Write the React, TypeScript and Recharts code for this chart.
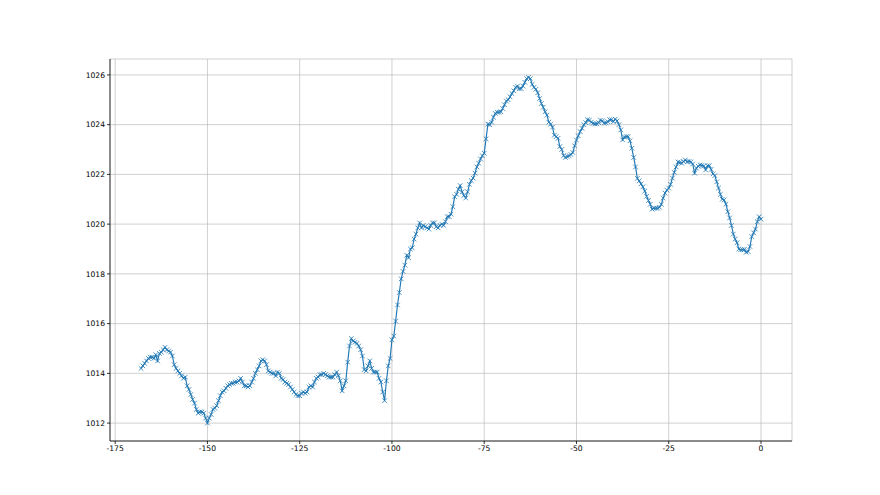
import { LineChart, Line, XAxis, YAxis, CartesianGrid } from 'recharts';

// half-hourly pressure readings, -168 h .. 0 h
const pressure = [
  1014.2, 1014.3, 1014.4, 1014.5, 1014.6, 1014.65, 1014.65, 1014.6, 1014.75, 1014.5,
  1014.8, 1014.85, 1014.95, 1015.05, 1014.95, 1014.9, 1014.85, 1014.7, 1014.35, 1014.2,
  1014.1, 1014.0, 1013.9, 1013.8, 1013.85, 1013.5, 1013.35, 1013.15, 1012.95, 1012.8,
  1012.55, 1012.4, 1012.45, 1012.45, 1012.4, 1012.2, 1012.0, 1012.2, 1012.35, 1012.55,
  1012.6, 1012.7, 1012.9, 1013.1, 1013.25, 1013.3, 1013.4, 1013.5, 1013.55, 1013.6,
  1013.6, 1013.65, 1013.65, 1013.7, 1013.8, 1013.65, 1013.5, 1013.5, 1013.45, 1013.5,
  1013.65,
  1013.8, 1014.0, 1014.15, 1014.3, 1014.5, 1014.55, 1014.5, 1014.35, 1014.1, 1014.05,
  1014.0, 1014.0, 1013.9, 1014.05, 1014.0, 1013.8, 1013.75, 1013.65, 1013.6, 1013.55,
  1013.45, 1013.35, 1013.25, 1013.15, 1013.1, 1013.1, 1013.2, 1013.25, 1013.2, 1013.25,
  1013.45, 1013.5, 1013.45, 1013.65, 1013.8, 1013.85, 1013.95, 1013.95, 1014.0, 1013.95,
  1013.9, 1013.85, 1013.85, 1013.85, 1013.95, 1014.05, 1013.9, 1013.7, 1013.3, 1013.5,
  1013.7, 1014.45, 1015.1, 1015.4, 1015.3, 1015.25, 1015.2, 1015.1, 1014.95, 1014.7,
  1014.15, 1014.1, 1014.3, 1014.5, 1014.2, 1014.05, 1014.05, 1014.05, 1013.8, 1013.65,
  1013.25, 1012.9, 1013.7, 1014.3, 1014.6, 1015.35, 1015.5, 1016.1, 1016.75, 1017.25,
  1017.8, 1018.1, 1018.35, 1018.75, 1018.65, 1019.0, 1019.05, 1019.4, 1019.6, 1019.85,
  1020.05, 1019.85, 1019.95, 1019.9, 1019.85, 1019.8, 1019.95, 1020.05, 1020.05, 1019.9,
  1019.85, 1019.95, 1020.0, 1019.95, 1020.1, 1020.3, 1020.3, 1020.4, 1020.7, 1021.1,
  1021.2, 1021.4, 1021.55, 1021.3, 1021.15, 1021.05, 1021.3, 1021.6, 1021.75, 1021.85,
  1022.05, 1022.3, 1022.45, 1022.62, 1022.75, 1022.85, 1023.43, 1024.02, 1024.0, 1024.1,
  1024.3, 1024.45, 1024.5, 1024.5, 1024.52, 1024.65, 1024.8, 1024.95, 1025.0, 1025.12,
  1025.25, 1025.36, 1025.5, 1025.55, 1025.44, 1025.45, 1025.55, 1025.7, 1025.85, 1025.9,
  1025.85, 1025.62, 1025.5, 1025.42, 1025.28, 1025.05, 1024.85, 1024.7, 1024.52, 1024.38,
  1024.1, 1024.02, 1023.9, 1023.58, 1023.52, 1023.45, 1023.12, 1023.0, 1022.75, 1022.68,
  1022.72, 1022.75, 1022.8, 1022.88, 1023.15, 1023.38, 1023.55, 1023.72, 1023.85, 1024.0,
  1024.08, 1024.2, 1024.18, 1024.1, 1024.05, 1024.03, 1024.03, 1024.08, 1024.18, 1024.15,
  1024.06, 1024.08, 1024.12, 1024.2, 1024.2, 1024.12, 1024.22, 1024.15, 1024.0, 1023.79,
  1023.39, 1023.5, 1023.52, 1023.52, 1023.35, 1023.05, 1022.68, 1022.3, 1021.84, 1021.74,
  1021.62, 1021.5, 1021.33, 1021.12, 1020.95, 1020.8, 1020.6, 1020.64, 1020.64, 1020.64,
  1020.68, 1020.8, 1021.05, 1021.25, 1021.37, 1021.45, 1021.6, 1021.85, 1022.08, 1022.3,
  1022.5, 1022.48, 1022.45, 1022.52, 1022.58, 1022.51, 1022.52, 1022.5,
  1022.42, 1022.05, 1022.25, 1022.33, 1022.38, 1022.36, 1022.34, 1022.18, 1022.35, 1022.35,
  1022.2, 1022.02, 1021.95, 1021.7, 1021.45, 1021.2, 1021.0, 1020.97, 1020.8, 1020.5,
  1020.25, 1019.95, 1019.6, 1019.4, 1019.25, 1019.0, 1018.97, 1018.97, 1018.98, 1018.87,
  1018.9, 1019.1, 1019.5, 1019.65, 1019.8, 1020.1, 1020.3, 1020.2,
];

const xTicks = [-175, -150, -125, -100, -75, -50, -25, 0];
const yTicks = [1012, 1014, 1016, 1018, 1020, 1022, 1024, 1026];

const last = pressure.length - 1;
const data = pressure.map((p, i) => ({ hour: (i - last) / 2, p }));

const BLUE = '#1f77b4';
const tickStyle = { fontSize: 7.6, fill: '#000', fontFamily: 'DejaVu Sans' };

const Cross = (props: any) => {
  const { cx, cy, index } = props;
  const s = 2.3;
  return (
    <path
      key={`x-${index}`}
      d={`M${cx - s},${cy - s}L${cx + s},${cy + s}M${cx - s},${cy + s}L${cx + s},${cy - s}`}
      stroke={BLUE}
      strokeWidth={0.8}
      fill="none"
    />
  );
};

export default function App() {
  return (
    <div style={{ position: 'absolute', left: 0, top: 0, width: 880, height: 495, background: '#fff' }}>
      <LineChart
        width={880}
        height={495}
        data={data}
        margin={{ top: 59, right: 88, left: 50, bottom: 24 }}
      >
        <CartesianGrid stroke="#b0b0b0" strokeWidth={0.6} />
        <XAxis
          dataKey="hour"
          type="number"
          domain={[-176.4, 8.4]}
          ticks={xTicks}
          allowDataOverflow
          height={30}
          tick={tickStyle}
          tickSize={3}
          tickMargin={2}
          stroke="#000"
          strokeWidth={0.8}
        />
        <XAxis
          xAxisId="top"
          dataKey="hour"
          type="number"
          domain={[-176.4, 8.4]}
          orientation="top"
          height={0}
          tick={false}
          tickLine={false}
          stroke="#000"
          strokeWidth={0.8}
        />
        <YAxis
          type="number"
          domain={[1011.28, 1026.64]}
          ticks={yTicks}
          allowDataOverflow
          width={60}
          tick={tickStyle}
          tickSize={3}
          tickMargin={2}
          stroke="#000"
          strokeWidth={0.8}
        />
        <YAxis
          yAxisId="right"
          type="number"
          domain={[1011.28, 1026.64]}
          orientation="right"
          width={0}
          tick={false}
          tickLine={false}
          stroke="#000"
          strokeWidth={0.8}
        />
        <Line
          dataKey="p"
          stroke={BLUE}
          strokeWidth={1.15}
          dot={Cross}
          activeDot={false}
          isAnimationActive={false}
        />
      </LineChart>
    </div>
  );
}
